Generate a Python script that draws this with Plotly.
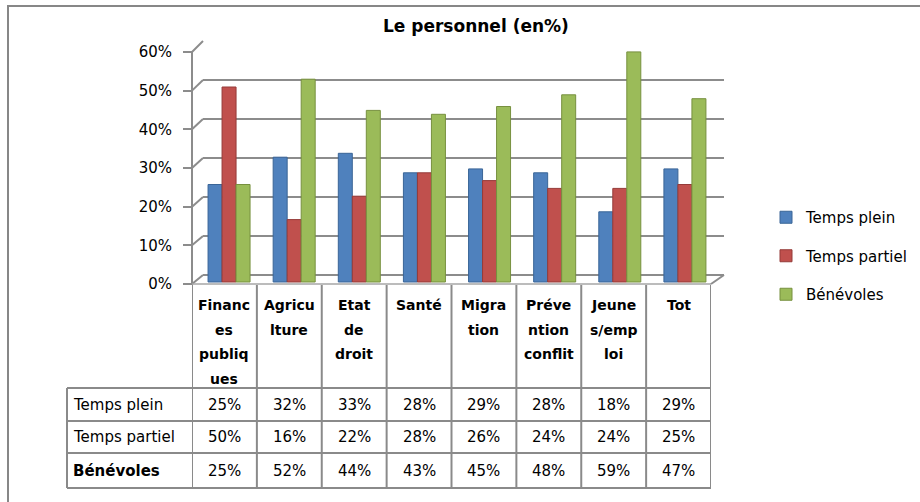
import plotly.graph_objects as go

# ---------------- data ----------------
categories = ["Finances publiques", "Agriculture", "Etat de droit", "Santé",
              "Migration", "Prévention conflit", "Jeunes/emploi", "Tot"]
header_lines = [["Financ", "es", "publiq", "ues"], ["Agricu", "lture"],
                ["Etat", "de", "droit"], ["Santé"], ["Migra", "tion"],
                ["Préve", "ntion", "conflit"], ["Jeune", "s/emp", "loi"], ["Tot"]]
series_names = ["Temps plein", "Temps partiel", "Bénévoles"]
temps_plein = [0.25, 0.32, 0.33, 0.28, 0.29, 0.28, 0.18, 0.29]
temps_partiel = [0.50, 0.16, 0.22, 0.28, 0.26, 0.24, 0.24, 0.25]
benevoles = [0.25, 0.52, 0.44, 0.43, 0.45, 0.48, 0.59, 0.47]
tick_values = [0.0, 0.1, 0.2, 0.3, 0.4, 0.5, 0.6]
tick_labels = ["0%", "10%", "20%", "30%", "40%", "50%", "60%"]
title_text = "Le personnel (en%)"

series_values = [temps_plein, temps_partiel, benevoles]
colors = ["#4F81BD", "#C0504D", "#9BBB59"]
edge_colors = ["#3A6597", "#953B39", "#77903F"]

# ---------------- geometry helpers ----------------
W, H = 920, 502
FONT = "DejaVu Sans"
GRID = "#8C8C8C"


def px(x):
    return x / W


def py(y):
    return 1 - y / H


# plot (3D-like) geometry in pixels
BAR_ZERO, SCALE = 282.0, 390.0          # value 0 at y=282, 390 px per unit
Y_TOP_VAL = 0.62
DOM_BOTTOM = 292.0
BACK_ZERO = 275.0                       # back wall 0 %
FRONT_ZERO, FRONT_SCALE = 284.0, 386.7  # front axis 0 %
WALL_X0, WALL_X1 = 203, 724
FRONT_X0, FRONT_X1 = 192, 711

y_lo = -(DOM_BOTTOM - BAR_ZERO) / SCALE
y_hi = Y_TOP_VAL
back_off = (BAR_ZERO - BACK_ZERO) / SCALE
f_lo = (FRONT_ZERO - BAR_ZERO + SCALE * y_lo) / FRONT_SCALE
f_hi = (FRONT_ZERO - BAR_ZERO + SCALE * y_hi) / FRONT_SCALE

fig = go.Figure()

for name, vals, col, ec in zip(series_names, series_values, colors, edge_colors):
    fig.add_trace(go.Bar(
        x=categories, y=vals, name=name, legendgroup=name,
        marker=dict(color=col, line=dict(color=ec, width=1)),
        hoverinfo="skip",
    ))

# helper traces so the extra axes exist
fig.add_trace(go.Scatter(x=categories, y=[None] * len(categories), xaxis="x2", yaxis="y",
                         mode="markers", showlegend=False, hoverinfo="skip"))
fig.add_trace(go.Scatter(x=[categories[0]], y=[None], yaxis="y3", xaxis="x",
                         showlegend=False, hoverinfo="skip", mode="markers"))
fig.add_trace(go.Scatter(x=[categories[0]], y=[None], yaxis="y2", xaxis="x",
                         showlegend=False, hoverinfo="skip", mode="markers"))

shapes = []
# outer frame
shapes.append(dict(type="rect", xref="paper", yref="paper",
                   x0=px(8), y0=py(6), x1=1.05, y1=-0.05,
                   line=dict(color="#878787", width=2)))
# front vertical axis line
shapes.append(dict(type="line", xref="paper", yref="paper",
                   x0=px(FRONT_X0), x1=px(FRONT_X0),
                   y0=py(FRONT_ZERO - FRONT_SCALE * tick_values[-1]), y1=py(FRONT_ZERO + 1),
                   line=dict(color=GRID, width=2)))
# diagonal connectors from front ticks to the back wall
for v in tick_values:
    shapes.append(dict(type="line", xref="paper", yref="paper",
                       x0=px(FRONT_X0), y0=py(FRONT_ZERO - FRONT_SCALE * v),
                       x1=px(WALL_X0), y1=py(BACK_ZERO - SCALE * v),
                       line=dict(color=GRID, width=2)))
# floor front edge + right side
shapes.append(dict(type="line", xref="paper", yref="paper",
                   x0=px(FRONT_X0), x1=px(FRONT_X1), y0=py(FRONT_ZERO), y1=py(FRONT_ZERO),
                   line=dict(color="#A6A6A6", width=1.5)))
shapes.append(dict(type="line", xref="paper", yref="paper",
                   x0=px(FRONT_X1), y0=py(FRONT_ZERO), x1=px(WALL_X1), y1=py(BACK_ZERO),
                   line=dict(color=GRID, width=2)))

# ---------------- data table ----------------
TBL_TOP = 285
ROW_BOUNDS = [388, 421, 453, 488]
LABEL_X0 = 67
n = len(categories)
TLINE = dict(color="#8A8A8A", width=2)
for k in range(n + 1):
    shapes.append(dict(type="line", xref="x2", yref="paper",
                       x0=k - 0.5, x1=k - 0.5, y0=py(TBL_TOP), y1=py(ROW_BOUNDS[-1]),
                       line=TLINE))
shapes.append(dict(type="line", xref="paper", yref="paper",
                   x0=px(LABEL_X0), x1=px(LABEL_X0), y0=py(ROW_BOUNDS[0]), y1=py(ROW_BOUNDS[-1]),
                   line=TLINE))
for yb in ROW_BOUNDS:
    shapes.append(dict(type="line", xref="paper", yref="paper",
                       x0=px(LABEL_X0), x1=px(FRONT_X0), y0=py(yb), y1=py(yb), line=TLINE))
    shapes.append(dict(type="line", xref="x2", yref="paper",
                       x0=-0.5, x1=n - 0.5, y0=py(yb), y1=py(yb), line=TLINE))

annotations = []
annotations.append(dict(text="<b>" + title_text + "</b>", xref="paper", yref="paper",
                        x=px(476), y=py(26), xanchor="center", yanchor="middle",
                        showarrow=False, font=dict(family=FONT, size=17, color="#000")))
for cat, lines in zip(categories, header_lines):
    for j, ln in enumerate(lines):
        annotations.append(dict(text="<b>" + ln + "</b>", xref="x2", yref="paper",
                                x=cat, y=py(305 + 24.5 * j), xanchor="center",
                                yanchor="middle", showarrow=False,
                                font=dict(family=FONT, size=14, color="#000")))
for r, (name, vals) in enumerate(zip(series_names, series_values)):
    yc = (ROW_BOUNDS[r] + ROW_BOUNDS[r + 1]) / 2
    lbl = "<b>" + name + "</b>" if name == "Bénévoles" else name
    annotations.append(dict(text=lbl, xref="paper", yref="paper",
                            x=px(71), y=py(yc), xanchor="left", yanchor="middle",
                            showarrow=False, font=dict(family=FONT, size=15, color="#000")))
    for cat, v in zip(categories, vals):
        annotations.append(dict(text=f"{round(v * 100)}%", xref="x2", yref="paper",
                                x=cat, y=py(yc), xanchor="center", yanchor="middle",
                                showarrow=False, font=dict(family=FONT, size=15, color="#000")))

fig.update_layout(
    width=W, height=H, autosize=False,
    margin=dict(l=0, r=0, t=0, b=0),
    paper_bgcolor="white", plot_bgcolor="rgba(0,0,0,0)",
    barmode="group", bargap=0.355, bargroupgap=0,
    font=dict(family=FONT, size=15, color="#000"),
    xaxis=dict(domain=[px(WALL_X0), px(WALL_X1)], range=[-0.4, 7.6],
               visible=False, showgrid=False, type="category"),
    xaxis2=dict(domain=[px(FRONT_X0), px(FRONT_X1)], range=[-0.5, 7.5], type="category",
                anchor="y", visible=False, showgrid=False),
    yaxis=dict(domain=[py(DOM_BOTTOM), py(BAR_ZERO - SCALE * Y_TOP_VAL)],
               range=[y_lo, y_hi], visible=False, showgrid=False, zeroline=False),
    yaxis2=dict(overlaying="y", range=[y_lo - back_off, y_hi - back_off],
                tickvals=tick_values, showgrid=True, gridcolor=GRID, gridwidth=2,
                showticklabels=False, ticks="", zeroline=False, showline=False),
    yaxis3=dict(overlaying="y", anchor="free", position=px(FRONT_X0), side="left",
                range=[f_lo, f_hi], tickvals=tick_values, ticktext=tick_labels,
                ticks="outside", ticklen=9, tickwidth=2, tickcolor=GRID,
                showgrid=False, zeroline=False, showline=False,
                ticklabelstandoff=8,
                tickfont=dict(family=FONT, size=15, color="#000")),
    legend=dict(x=px(766), y=py(201), xanchor="left", yanchor="top",
                traceorder="grouped", tracegroupgap=16,
                font=dict(family=FONT, size=15, color="#000"),
                itemclick=False, itemdoubleclick=False),
    shapes=shapes, annotations=annotations,
)

fig.write_html("out.html", config={"displayModeBar": False},
               post_script="document.body.style.margin='0';document.body.style.padding='0';")
